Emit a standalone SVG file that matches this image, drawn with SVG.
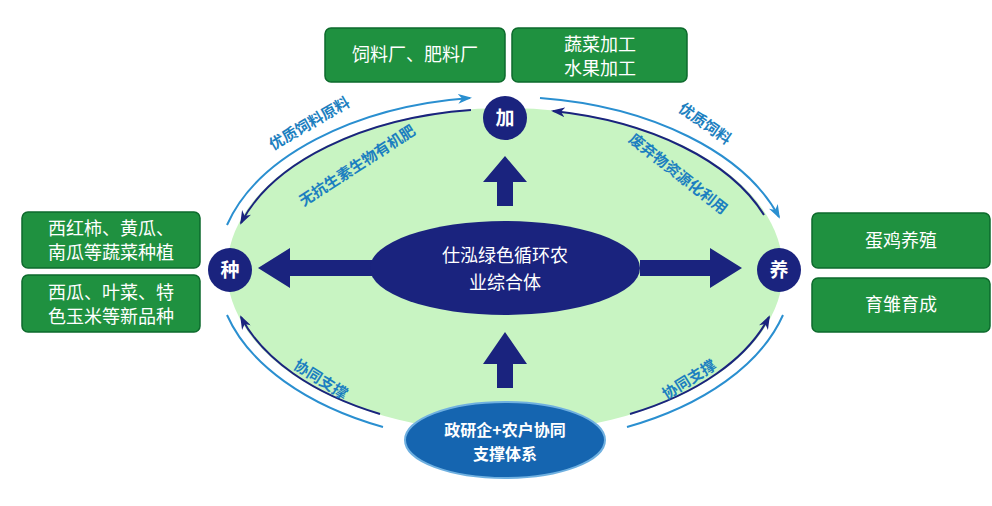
<svg xmlns="http://www.w3.org/2000/svg" width="992" height="506" viewBox="0 0 992 506">
<style>
.box{fill:#1f9140;stroke:#0d6a2c;stroke-width:1.5}
.bt{fill:#fff;font-family:"Noto Sans CJK SC",sans-serif;font-size:18px;text-anchor:middle}
.nd{fill:#1a237e}
.nt{fill:#fff;font-family:"Noto Sans CJK SC",sans-serif;font-size:19px;font-weight:bold;text-anchor:middle}
.st{fill:#fff;font-family:"Noto Sans CJK SC",sans-serif;font-size:16px;font-weight:bold;text-anchor:middle}
.lb{fill:#1c7fc0;font-family:"Noto Sans CJK SC",sans-serif;font-size:15px;font-weight:bold;text-anchor:middle}
.ao{fill:none;stroke:#2a8fd0;stroke-width:2}
.ai{fill:none;stroke:#1a237e;stroke-width:2}
.blk{fill:#1a237e}
</style>
<defs>
<marker id="mo" markerWidth="14" markerHeight="10" refX="12" refY="5" orient="auto" markerUnits="userSpaceOnUse"><path d="M0,0 L14,5 L0,10 L4,5 Z" fill="#2a8fd0"/></marker>
<marker id="mi" markerWidth="14" markerHeight="10" refX="12" refY="5" orient="auto" markerUnits="userSpaceOnUse"><path d="M0,0 L14,5 L0,10 L4,5 Z" fill="#1a237e"/></marker>
</defs>
<rect width="992" height="506" fill="#fff"/>
<ellipse cx="505" cy="270" rx="278" ry="162" fill="#c8f4c2"/>
<g id="connectors">
<path class="ao" d="M227,225 A288,173 0 0,1 470,98" marker-end="url(#mo)"/>
<path class="ai" d="M471,110 A276,161 0 0,0 241,223" marker-end="url(#mi)"/>
<path class="ao" d="M540,98 A288,173 0 0,1 779,217" marker-end="url(#mo)"/>
<path class="ai" d="M764,215 A276,161 0 0,0 553,111" marker-end="url(#mi)"/>
<path class="ao" d="M383,427 A288,173 0 0,1 227,315"/>
<path class="ai" d="M380,414 A276,161 0 0,1 241,317" marker-end="url(#mi)"/>
<path class="ao" d="M627,427 A288,173 0 0,0 783,315"/>
<path class="ai" d="M630,414 A276,161 0 0,0 769,317" marker-end="url(#mi)"/>
<polygon class="blk" points="497,206 513,206 513,182 527,182 505,156 483,182 497,182"/>
<polygon class="blk" points="497,388 513,388 513,364 527,364 505,332 483,364 497,364"/>
<polygon class="blk" points="372,260 372,276 290,276 290,288 258,268 290,248 290,260"/>
<polygon class="blk" points="640,260 640,276 710,276 710,288 742,268 710,248 710,260"/>
</g>
<text class="lb" transform="translate(312,128) rotate(-30)">优质饲料原料</text>
<text class="lb" transform="translate(360,170) rotate(-33)">无抗生素生物有机肥</text>
<text class="lb" transform="translate(702,128) rotate(35)">优质饲料</text>
<text class="lb" transform="translate(675,178) rotate(38)">废弃物资源化利用</text>
<text class="lb" transform="translate(318,384) rotate(32)">协同支撑</text>
<text class="lb" transform="translate(692,384) rotate(-32)">协同支撑</text>
<g id="n-center"><ellipse class="nd" cx="505" cy="268" rx="135" ry="47"/>
<text class="bt" x="505" y="262" font-size="20">仕泓绿色循环农</text><text class="bt" x="505" y="289" font-size="20">业综合体</text></g>
<g id="n-jia"><circle class="nd" cx="505" cy="118" r="22"/><text class="nt" x="505" y="125">加</text></g>
<g id="n-zhong"><circle class="nd" cx="230" cy="270" r="22"/><text class="nt" x="230" y="277">种</text></g>
<g id="n-yang"><circle class="nd" cx="779" cy="270" r="22"/><text class="nt" x="779" y="277">养</text></g>
<g id="n-support"><ellipse cx="505" cy="440" rx="100" ry="38" fill="#1565b0" stroke="#6fb0e0" stroke-width="2"/>
<text class="st" x="505" y="436">政研企+农户协同</text><text class="st" x="505" y="460">支撑体系</text></g>
<g id="b1"><rect class="box" x="325" y="28" width="180" height="54" rx="6"/><text class="bt" x="415" y="61">饲料厂、肥料厂</text></g>
<g id="b2"><rect class="box" x="512" y="28" width="175" height="54" rx="6"/><text class="bt" x="600" y="51">蔬菜加工</text><text class="bt" x="600" y="75">水果加工</text></g>
<g id="b3"><rect class="box" x="22" y="212" width="178" height="56" rx="6"/><text class="bt" x="111" y="235">西红柿、黄瓜、</text><text class="bt" x="111" y="259">南瓜等蔬菜种植</text></g>
<g id="b4"><rect class="box" x="22" y="275" width="178" height="57" rx="6"/><text class="bt" x="111" y="299">西瓜、叶菜、特</text><text class="bt" x="111" y="323">色玉米等新品种</text></g>
<g id="b5"><rect class="box" x="812" y="213" width="178" height="55" rx="6"/><text class="bt" x="901" y="247">蛋鸡养殖</text></g>
<g id="b6"><rect class="box" x="812" y="278" width="178" height="54" rx="6"/><text class="bt" x="901" y="311">育雏育成</text></g>
</svg>
